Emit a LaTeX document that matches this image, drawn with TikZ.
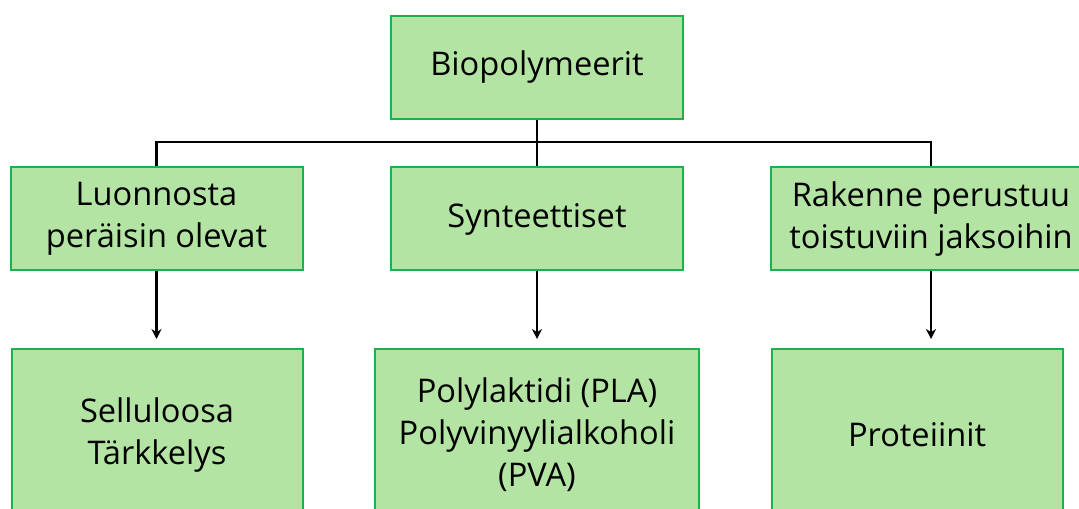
\documentclass[tikz,border=0pt]{standalone}
\usepackage{fontspec}
\setmainfont{Open Sans}
\usetikzlibrary{arrows.meta, positioning}
\definecolor{boxFill}{HTML}{B4E4A3}
\definecolor{boxLine}{HTML}{1DB04F}
\tikzset{
  % one pixel of the slide is half a point
  catbox/.style  = {draw=boxLine, fill=boxFill, line width=1pt, align=center,
                    inner sep=0pt, font=\fontsize{16.3}{21}\selectfont},
  topbox/.style  = {catbox, minimum width=146pt, minimum height=51.5pt},
  subbox/.style  = {catbox, minimum width=#1, minimum height=86pt},
  bus/.style     = {line width=1.3pt, black},
  down/.style    = {-{Stealth[length=5pt, width=5pt]}, line width=1.2pt,
                    black, shorten >=4.5pt},
}

\begin{document}
\begin{tikzpicture}[x=0.5pt, y=0.5pt]
  \useasboundingbox (0,0) rectangle (1079,508);
  \clip (0,0) rectangle (1079,508);
  % root
  \node[topbox] (bio) at (537,440.5) {Biopolymeerit};
  % groups
  \node[topbox] (luo) at (156.5,289) {Luonnosta\\peräisin olevat};
  \node[topbox] (syn) at (537,289) {Synteettiset};
  \node[topbox, minimum width=160pt] (rak) at (931,289) {Rakenne perustuu\\toistuviin jaksoihin};
  % examples
  \node[subbox=145.5pt] (sel) at (157,73) {Selluloosa\\Tärkkelys};
  \node[subbox=162pt] (pla) at (537,73) {Polylaktidi (PLA)\\Polyvinyylialkoholi\\(PVA)};
  \node[subbox=145.5pt] (pro) at (917,73) {Proteiinit};
  % tree lines
  \coordinate (fork) at (537,366);
  \draw[bus] (bio.south) -- (syn.north);
  \draw[bus] (luo.north) |- (fork) -| (rak.north);
  % arrows down
  \draw[down] (luo.south) -- (luo.south |- sel.north);
  \draw[down] (syn.south) -- (syn.south |- pla.north);
  \draw[down] (rak.south) -- (rak.south |- pro.north);
\end{tikzpicture}
\end{document}
